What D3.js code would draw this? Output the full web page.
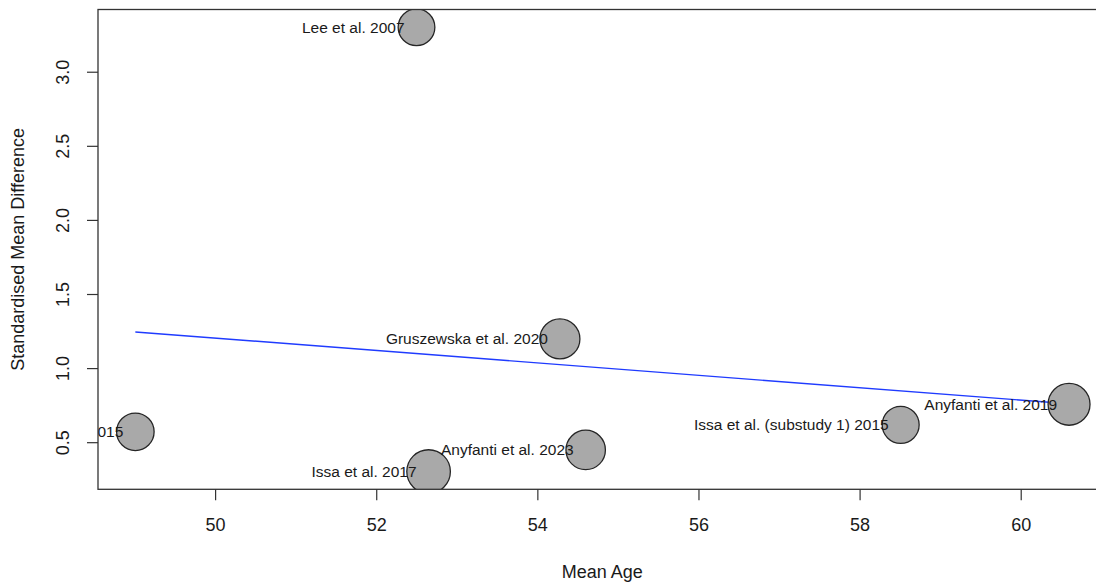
<!DOCTYPE html>
<html>
<head>
<meta charset="utf-8">
<script src="https://cdn.jsdelivr.net/npm/d3@7"></script>
<style>
  body { margin: 0; background: #fff; }
  text { font-family: "Liberation Sans", Arial, Helvetica, sans-serif; fill: #1a1a1a; }
</style>
</head>
<body>
<svg id="chart" width="1096" height="582"></svg>
<script>
// studies
var studies = ["Lee et al. 2007", "Gruszewska et al. 2020", "Issa et al. (substudy 2) 2015",
  "Issa et al. 2017", "Anyfanti et al. 2023", "Issa et al. (substudy 1) 2015", "Anyfanti et al. 2019"];
var meanAge = [52.5, 54.28, 49.01, 52.65, 54.6, 58.51, 60.6];
var smd = [3.30, 1.197, 0.57, 0.302, 0.448, 0.617, 0.756];
var weights = [13.3, 14.5, 13.6, 15.8, 14.3, 13.4, 15.2];

// fitted meta-regression line
var fitX = [49.01, 60.6];
var fitY = [1.244, 0.759];

var xTicks = [50, 52, 54, 56, 58, 60];
var yTicks = [0.5, 1.0, 1.5, 2.0, 2.5, 3.0];

var svg = d3.select("#chart");
var margin = {left: 98, top: 9.5};
var w = 1008.4, h = 479.8;

// R style padding of 4% on each side
var xr = d3.extent(meanAge), yr = d3.extent(smd);
var xpad = (xr[1] - xr[0]) * 0.04, ypad = (yr[1] - yr[0]) * 0.04;
var x = d3.scaleLinear().domain([xr[0] - xpad, xr[1] + xpad]).range([0, w]);
var y = d3.scaleLinear().domain([yr[0] - ypad, yr[1] + ypad]).range([h, 0]);
var r = d3.scaleLinear().domain([0, d3.max(weights)]).range([0, 21.8]);

var g = svg.append("g").attr("transform", "translate(" + margin.left + "," + margin.top + ")");

svg.append("defs").append("clipPath").attr("id", "plotclip")
  .append("rect").attr("width", w).attr("height", h);

var plot = g.append("g").attr("clip-path", "url(#plotclip)");

// regression line
plot.append("line")
  .attr("x1", x(fitX[0])).attr("y1", y(fitY[0]))
  .attr("x2", x(fitX[1])).attr("y2", y(fitY[1]))
  .attr("stroke", "#1f3bff").attr("stroke-width", 1.4);

var data = studies.map(function(s, i) {
  return {name: s, age: meanAge[i], smd: smd[i], wt: weights[i]};
});

plot.selectAll("circle")
  .data(data)
  .enter()
  .append("circle")
  .attr("cx", function(d) { return x(d.age); })
  .attr("cy", function(d) { return y(d.smd); })
  .attr("r", function(d) { return r(d.wt); })
  .attr("fill", "#a9a9a9")
  .attr("stroke", "#262626")
  .attr("stroke-width", 1.3);

// labels to the left of each point
plot.selectAll("text.lab")
  .data(data)
  .enter()
  .append("text")
  .attr("class", "lab")
  .attr("x", function(d) { return x(d.age) - 12; })
  .attr("y", function(d) { return y(d.smd); })
  .attr("dy", "0.35em")
  .attr("text-anchor", "end")
  .style("font-size", "15.5px")
  .text(function(d) { return d.name; });

// axes
var xAxis = g.append("g")
  .attr("transform", "translate(0," + h + ")")
  .call(d3.axisBottom(x).tickValues(xTicks).tickSize(11).tickFormat(d3.format("d")));
xAxis.select(".domain").remove();
xAxis.selectAll("line").attr("stroke", "#333").attr("stroke-width", 1.2);
xAxis.selectAll("text")
  .attr("y", 35).attr("dy", "0.35em")
  .style("font-size", "18px").style("font-family", null).attr("fill", "#1a1a1a");

var yAxis = g.append("g")
  .call(d3.axisLeft(y).tickValues(yTicks).tickSize(11).tickFormat(d3.format(".1f")));
yAxis.select(".domain").remove();
yAxis.selectAll("line").attr("stroke", "#333").attr("stroke-width", 1.2);
yAxis.selectAll("text")
  .attr("x", 0).attr("dy", "0.35em")
  .attr("text-anchor", "middle")
  .attr("transform", "translate(-35,0) rotate(-90)")
  .style("font-size", "18px").style("font-family", null).attr("fill", "#1a1a1a");

// box
g.append("rect")
  .attr("width", w).attr("height", h)
  .attr("fill", "none").attr("stroke", "#333").attr("stroke-width", 1.3);

// titles
svg.append("text")
  .attr("x", margin.left + w / 2).attr("y", 572)
  .attr("dy", "0.35em").attr("text-anchor", "middle")
  .style("font-size", "18px")
  .text("Mean Age");

svg.append("text")
  .attr("transform", "translate(18," + (margin.top + h / 2) + ") rotate(-90)")
  .attr("dy", "0.35em").attr("text-anchor", "middle")
  .style("font-size", "18px")
  .text("Standardised Mean Difference");
</script>
</body>
</html>
